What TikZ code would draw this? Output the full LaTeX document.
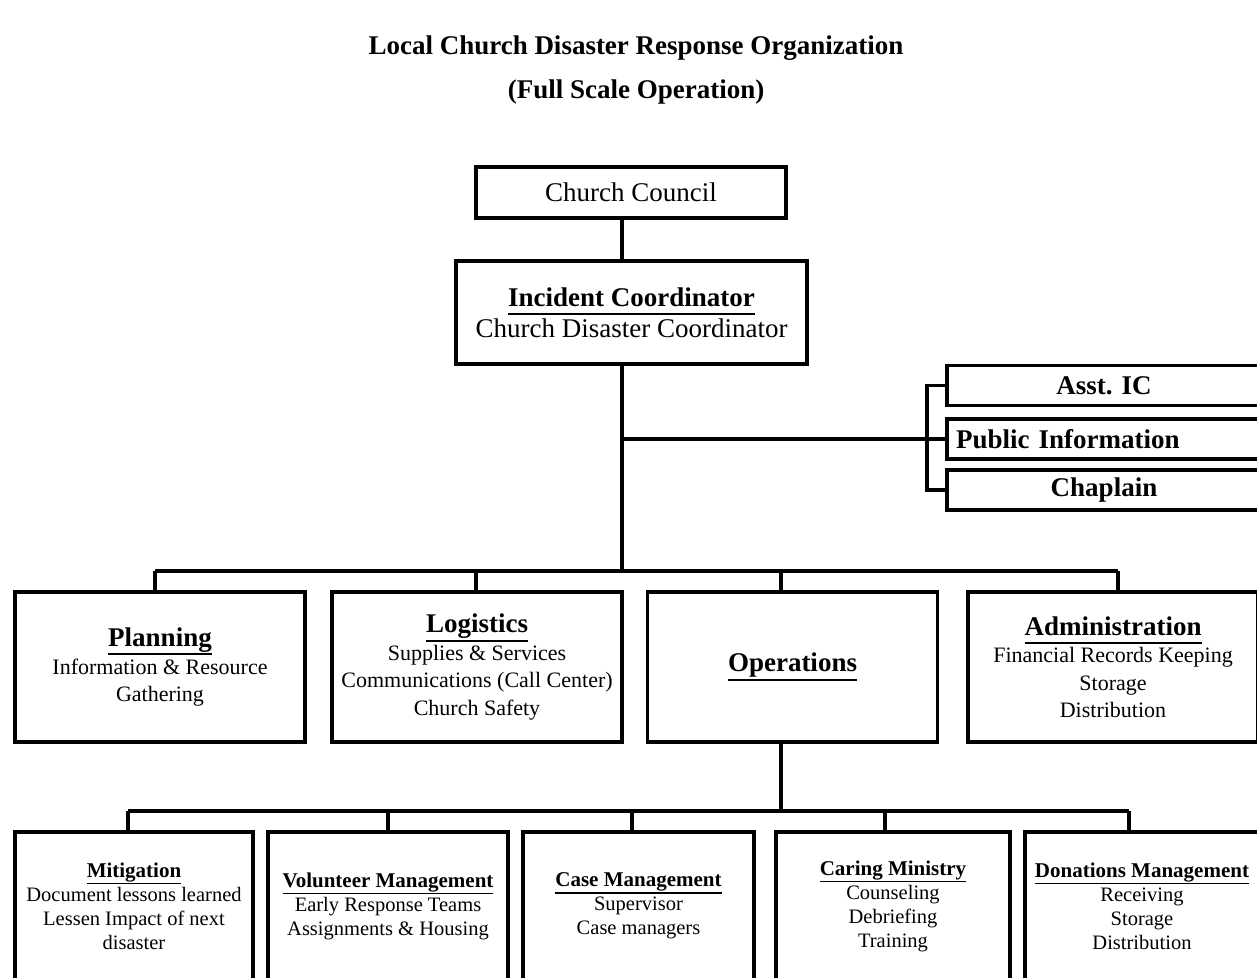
\documentclass[tikz,border=0pt]{standalone}
\usepackage{fontspec}
\setmainfont{Liberation Serif}
\usepackage{tikz}
\usetikzlibrary{
	positioning,
	calc
}

\newcommand{\ulthick}[2]{\leavevmode\vtop{\hbox{\vphantom{g}#2}\kern1pt\hrule height #1}}
\newcommand{\hdbig}[1]{{\fontsize{27}{30}\selectfont\bfseries\ulthick{2pt}{#1}}}
\newcommand{\hdsmall}[1]{{\fontsize{21}{24}\selectfont\bfseries\ulthick{1.6pt}{#1}}}

\begin{document}
\begin{tikzpicture}[x=1pt,y=-1pt,
	box/.style={draw,line width=3.1pt,inner sep=0pt,align=center},
	topbox/.style={box,font=\fontsize{27}{31}\selectfont},
	sidebox/.style={box,minimum width=314pt,minimum height=40pt,font=\fontsize{27}{31}\selectfont\bfseries},
	deptbox/.style={box,minimum width=290pt,minimum height=150pt,font=\fontsize{22}{27.5}\selectfont},
	unitbox/.style={box,minimum height=148pt,font=\fontsize{20.5}{24}\selectfont},
	link/.style={line width=3.1pt},
	heading/.style={font=\fontsize{27}{31}\selectfont\bfseries,inner sep=0pt}
	]
		
		\useasboundingbox[fill=white] (0,0) rectangle (1257,977);
		
		\node[heading] (title) at (636,48) {Local Church Disaster Response Organization};
		\node[heading] (subtitle) at (636,92) {(Full Scale Operation)};
		
		\node[topbox,minimum width=310pt,minimum height=51pt] (cc) at (631,192.5) {Church Council};
		\node[topbox,minimum width=351pt,minimum height=103pt] (ic) at (631.5,312.5)
		{{\bfseries\ulthick{2pt}{Incident Coordinator}}\\Church Disaster Coordinator};
		
		\node[sidebox] (asst) at (1104,385.5) {Asst. IC};
		\node[sidebox,align=left,text width=296pt,inner xsep=9pt] (pub) at (1104,439) {Public Information};
		\node[sidebox] (chap) at (1104,490) {Chaplain};
		
		\node[deptbox] (plan) at (160,667) {\hdbig{Planning}\\Information \& Resource\\Gathering};
		\node[deptbox] (logi) at (477,667) {\hdbig{Logistics}\\Supplies \& Services\\Communications (Call Center)\\Church Safety};
		\node[deptbox] (oper) at (792.5,667) {\hdbig{Operations}};
		\node[deptbox] (admin) at (1113,667) {\hdbig{Administration}\\Financial Records Keeping\\Storage\\Distribution};
		
		\node[unitbox,minimum width=238pt] (miti) at (134,906) {\hdsmall{Mitigation}\\Document lessons learned\\Lessen Impact of next\\disaster};
		\node[unitbox,minimum width=240pt] (volu) at (388,906) {\hdsmall{Volunteer Management}\\Early Response Teams\\Assignments \& Housing};
		\node[unitbox,minimum width=231pt] (case) at (638.5,906) {\hdsmall{Case Management}\\Supervisor\\Case managers};
		\node[unitbox,minimum width=234pt] (care) at (893,906) {\hdsmall{Caring Ministry}\\Counseling\\Debriefing\\Training};
		\node[unitbox,minimum width=234pt] (dona) at (1142,906) {\hdsmall{Donations Management}\\Receiving\\Storage\\Distribution};
		
		\coordinate (spine) at (622,0);
		\coordinate (brk) at (927,0);
		\coordinate (bus1) at (622,571);
		\coordinate (dplan) at (155,571);
		\coordinate (dlogi) at (476,571);
		\coordinate (doper) at (781,571);
		\coordinate (dadmin) at (1118,571);
		\coordinate (bus2) at (781,811);
		\coordinate (dmiti) at (128,811);
		\coordinate (dvolu) at (388,811);
		\coordinate (dcase) at (632,811);
		\coordinate (dcare) at (885,811);
		\coordinate (ddona) at (1129,811);
		
		\draw[link] (cc.south -| spine) -- (ic.north -| spine);
		\draw[link] (ic.south -| spine) -- (bus1);
		\draw[link] (pub.west -| spine) -- (pub.west);
		\draw[link] (asst.west) -- (asst.west -| brk) -- (chap.west -| brk) -- (chap.west);
		
		\draw[link] (dplan) -- (dadmin);
		\foreach \d in {dplan,dlogi,doper,dadmin}
		\draw[link] (\d) -- (\d |- plan.north);
		
		\draw[link] (oper.south -| bus2) -- (bus2);
		\draw[link] (dmiti) -- (ddona);
		\foreach \d in {dmiti,dvolu,dcase,dcare,ddona}
		\draw[link] (\d) -- (\d |- miti.north);
		
	\end{tikzpicture}
\end{document}
